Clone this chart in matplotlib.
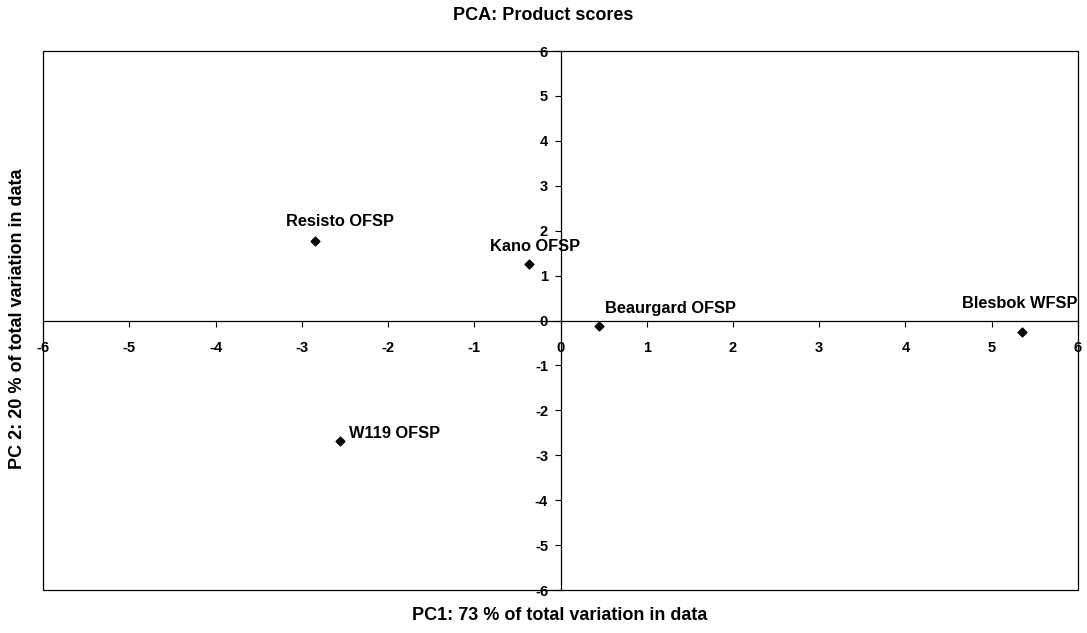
import matplotlib.pyplot as plt
from matplotlib.patches import Rectangle

plt.rcParams['font.family'] = ['Liberation Sans', 'DejaVu Sans']
plt.rcParams['font.weight'] = 'bold'

# product scores on the first two principal components
products = ["Resisto OFSP", "Kano OFSP", "Beaurgard OFSP", "Blesbok WFSP", "W119 OFSP"]
pc1 = [-2.85, -0.36, 0.45, 5.35, -2.56]
pc2 = [1.77, 1.25, -0.13, -0.25, -2.69]

ticks = [-6, -5, -4, -3, -2, -1, 0, 1, 2, 3, 4, 5, 6]

# label offsets (points) so the labels sit like in the original
offsets = [(18.5, 13.7), (4.3, 13), (4.3, 13), (-1.4, 20), (6.5, 5.8)]
aligns = ["center", "center", "left", "center", "left"]

fig = plt.figure(figsize=(10.87, 6.33), dpi=100)
ax = fig.add_axes([0.0396, 0.0679, 0.9521, 0.8515])

ax.scatter(pc1, pc2, marker="D", s=20, color="black", zorder=3)
for name, x, y, off, ha in zip(products, pc1, pc2, offsets, aligns):
    ax.annotate(name, xy=(x, y), xytext=off, textcoords="offset points",
                ha=ha, va="center", fontsize=11.8, fontweight="bold")

ax.set_xlim(-6, 6)
ax.set_ylim(-6, 6)
ax.set_xticks(ticks)
ax.set_yticks(ticks)
ax.set_xticklabels([str(t) for t in ticks])
ax.set_yticklabels([str(t) for t in ticks])

# axes cross at the origin
ax.spines["left"].set_position(("data", 0))
ax.spines["bottom"].set_position(("data", 0))
ax.spines["right"].set_visible(False)
ax.spines["top"].set_visible(False)
for s in ["left", "bottom"]:
    ax.spines[s].set_linewidth(0.9)
ax.tick_params(axis="both", direction="out", length=4, width=0.8,
               labelsize=10.5)
ax.tick_params(axis="x", pad=11)
ax.tick_params(axis="y", pad=5)

# outer frame
ax.add_patch(Rectangle((0, 0), 1, 1, transform=ax.transAxes, fill=False,
                       lw=0.9, edgecolor="black", clip_on=False))

fig.text(0.5, 0.975, "PCA: Product scores", ha="center", va="center",
         fontsize=13, fontweight="bold")
fig.text(0.515, 0.028, "PC1: 73 % of total variation in data", ha="center",
         va="center", fontsize=13, fontweight="bold")
fig.text(0.016, 0.496, "PC 2: 20 % of total variation in data", ha="center",
         va="center", rotation=90, fontsize=13, fontweight="bold")

fig.savefig("out.png", dpi=100)
